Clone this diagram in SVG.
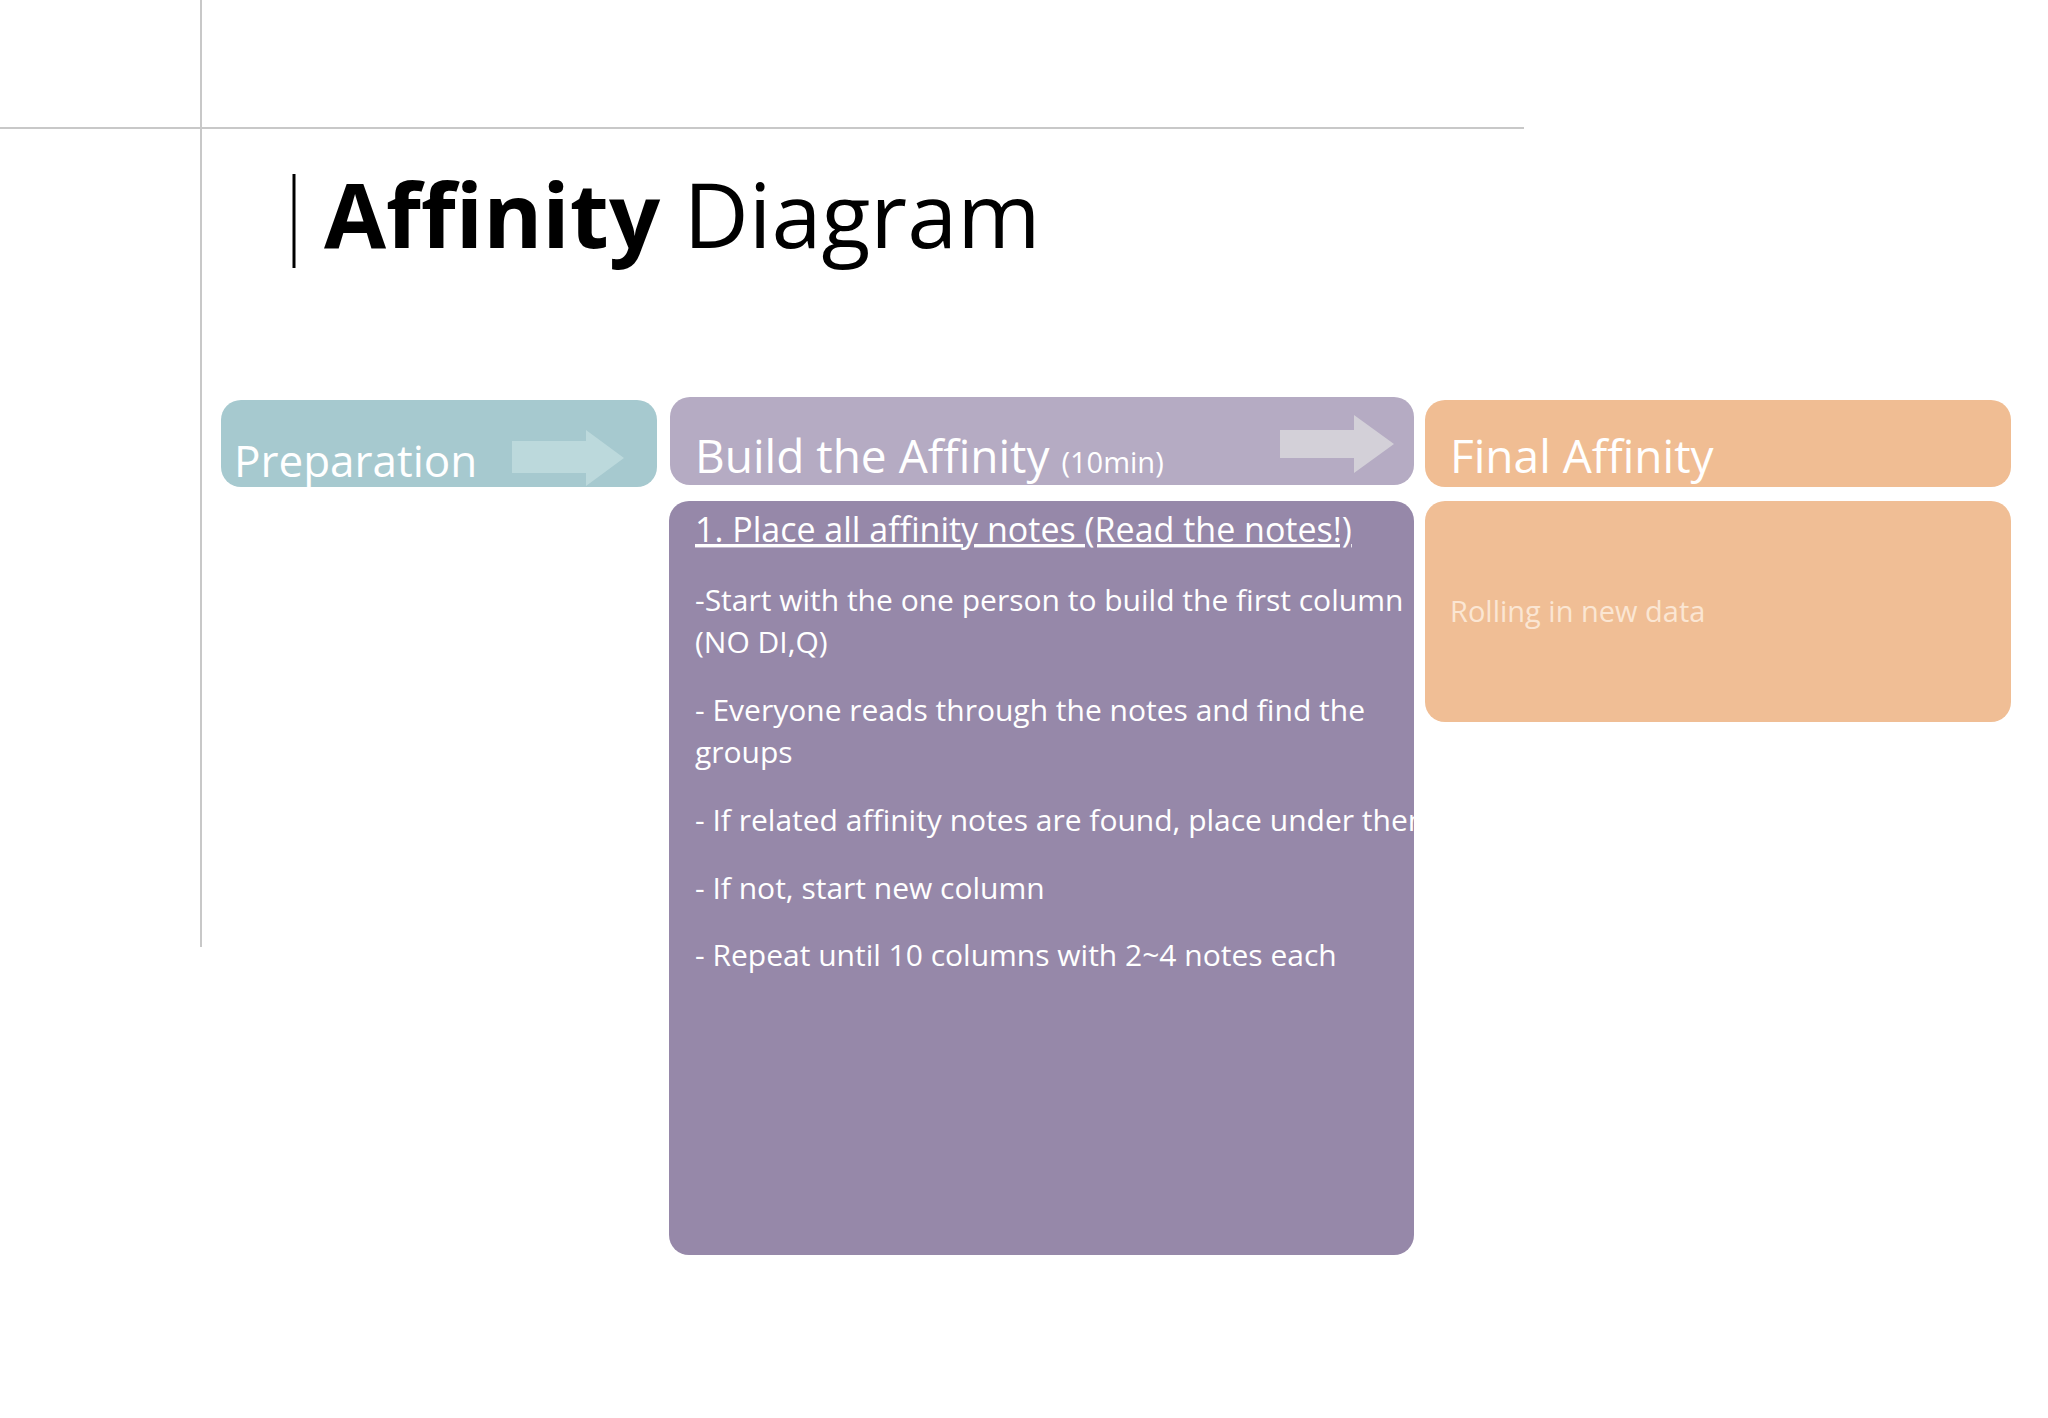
<svg xmlns="http://www.w3.org/2000/svg" width="2048" height="1418" viewBox="0 0 2048 1418">
<style>
.t{font-family:"Open Sans","Liberation Sans",sans-serif;fill:#fff}
.b{font-size:30px}
</style>
<rect width="2048" height="1418" fill="#fff"/>
<line x1="201" y1="0" x2="201" y2="947" stroke="#c8c8c8" stroke-width="2"/>
<line x1="0" y1="128" x2="1524" y2="128" stroke="#c8c8c8" stroke-width="2"/>
<line x1="294" y1="174" x2="294" y2="268" stroke="#000" stroke-width="3"/>
<text x="324" y="248" font-family="Open Sans,Liberation Sans,sans-serif" font-size="90" fill="#000"><tspan font-weight="bold">Affinity</tspan> Diagram</text>
<g id="prep">
<rect x="221" y="400" width="436" height="87" rx="20" fill="#a6c9cf"/>
<text class="t" x="234" y="477" font-size="44">Preparation</text>
<polygon points="512,441 586,441 586,430 624,458 586,486 586,473 512,473" fill="#bcd9dc"/>
</g>
<g id="build">
<rect x="670" y="397" width="744" height="88" rx="20" fill="#b5abc3"/>
<text class="t" x="695" y="473" font-size="46">Build the Affinity <tspan font-size="29">(10min)</tspan></text>
<polygon points="1280,430 1354,430 1354,415 1394,444 1354,473 1354,458 1280,458" fill="#d3d0d8"/>
</g>
<g id="final">
<rect x="1425" y="400" width="586" height="87" rx="20" fill="#f0bd93"/>
<text class="t" x="1450" y="473" font-size="46">Final Affinity</text>
</g>
<g id="steps">
<rect x="669" y="501" width="745" height="754" rx="20" fill="#9688a9"/>
<text class="t" x="695" y="542" font-size="34" text-decoration="underline">1. Place all affinity notes (Read  the notes!)</text>
<text class="t b" x="695" y="611">-Start with the one person to build the first column</text>
<text class="t b" x="695" y="653">(NO DI,Q)</text>
<text class="t b" x="695" y="721">- Everyone reads through the notes and find the</text>
<text class="t b" x="695" y="763">groups</text>
<text class="t b" x="695" y="831">- If related affinity notes are found, place under them</text>
<text class="t b" x="695" y="899">- If not, start new column</text>
<text class="t b" x="695" y="966">- Repeat until 10 columns with 2~4 notes each</text>
</g>
<g id="rolling">
<rect x="1425" y="501" width="586" height="221" rx="20" fill="#f0be95"/>
<text x="1450" y="622" font-family="Open Sans,Liberation Sans,sans-serif" font-size="29" fill="#fbe6d3">Rolling in new data</text>
</g>
<g id="connectors"/>
</svg>
